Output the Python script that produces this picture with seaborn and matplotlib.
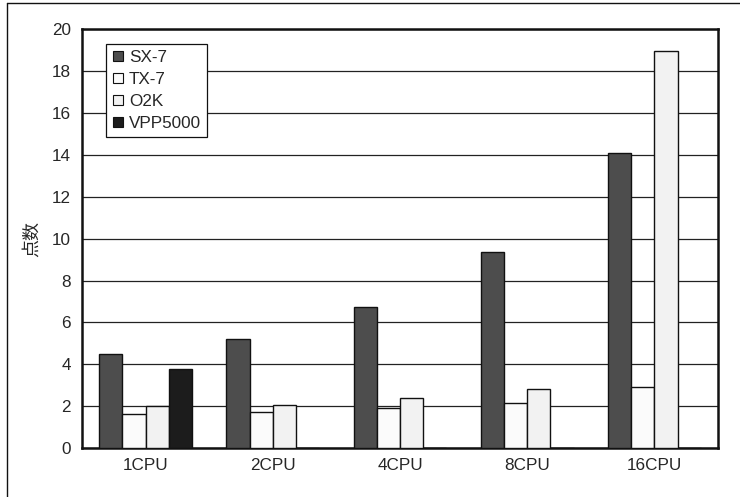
import numpy as np
import pandas as pd
import matplotlib
matplotlib.use("Agg")
import matplotlib.pyplot as plt
import seaborn as sns
from matplotlib.lines import Line2D

categories = ["1CPU", "2CPU", "4CPU", "8CPU", "16CPU"]
series_names = ["SX-7", "TX-7", "O2K", "VPP5000"]
sx7 = [4.47, 5.20, 6.72, 9.37, 14.10]
tx7 = [1.62, 1.70, 1.89, 2.13, 2.89]
o2k = [1.99, 2.07, 2.37, 2.82, 18.97]
vpp5000 = [3.77, 0.0, 0.0, 0.0, 0.0]
colors = ["#4d4d4d", "#fbfbfb", "#f2f2f2", "#1c1c1c"]
y_ticks = [0, 2, 4, 6, 8, 10, 12, 14, 16, 18, 20]
y_label = "点数"

rows = []
for name, vals in zip(series_names, [sx7, tx7, o2k, vpp5000]):
    for c, v in zip(categories, vals):
        rows.append({"cat": c, "series": name, "value": v})
df = pd.DataFrame(rows)

sns.set_theme(style="white")
plt.rcParams["font.family"] = ["Liberation Sans", "Noto Sans CJK SC", "DejaVu Sans"]

FS = 12.3

fig = plt.figure(figsize=(7.4, 4.97), dpi=100)
ax = fig.add_axes([82/740, 1-448/497, (718-82)/740, (448-29.3)/497])

sns.barplot(data=df, x="cat", y="value", hue="series", order=categories,
            hue_order=series_names, palette=colors, width=0.73, gap=0,
            edgecolor="#111111", linewidth=1.0, saturation=1, ax=ax,
            legend=False, zorder=3)

ax.set_ylim(0, 20)
ax.set_xlim(-0.5, 4.5)
ax.set_yticks(y_ticks)
ax.set_yticklabels([str(t) for t in y_ticks], fontsize=FS)
ax.yaxis.grid(True, color="#222222", linewidth=0.9, zorder=0)
ax.set_axisbelow(True)
ax.tick_params(axis="y", length=0, pad=8)
ax.tick_params(axis="x", length=0, pad=7, labelsize=FS)
ax.set_xticks(range(len(categories)))
ax.set_xticklabels(categories, fontsize=FS)
ax.set_xticks([0.5, 1.5, 2.5, 3.5], minor=True)
ax.tick_params(axis="x", which="minor", direction="in", length=5, width=1, color="#111111")
ax.set_xlabel("")
ax.set_ylabel(y_label, fontsize=13, labelpad=8,
              family=["Noto Sans CJK SC", "DejaVu Sans"])
for s in ax.spines.values():
    s.set_visible(True)
    s.set_color("#111111")
    s.set_linewidth(1.8)

handles = [Line2D([0], [0], marker="s", linestyle="none", markersize=7,
                  markerfacecolor=c, markeredgecolor="#111111", markeredgewidth=0.8)
           for c in colors]
leg = ax.legend(handles, series_names, loc="upper left",
                bbox_to_anchor=(24/636, 1-15/419), borderaxespad=0,
                fontsize=FS, frameon=True, fancybox=False, framealpha=1,
                edgecolor="#111111", handlelength=0.7, handletextpad=0.3,
                labelspacing=0.4, borderpad=0.35)
leg.get_frame().set_linewidth(0.9)
leg.set_zorder(5)

# outer border (only top and left visible in the reference)
fig.add_artist(Line2D([7/740, 7/740], [0, 1-3/497], transform=fig.transFigure,
                      color="#111111", linewidth=1.0))
fig.add_artist(Line2D([7/740, 1], [1-3/497, 1-3/497], transform=fig.transFigure,
                      color="#111111", linewidth=1.0))

fig.savefig("out.png", dpi=100)
